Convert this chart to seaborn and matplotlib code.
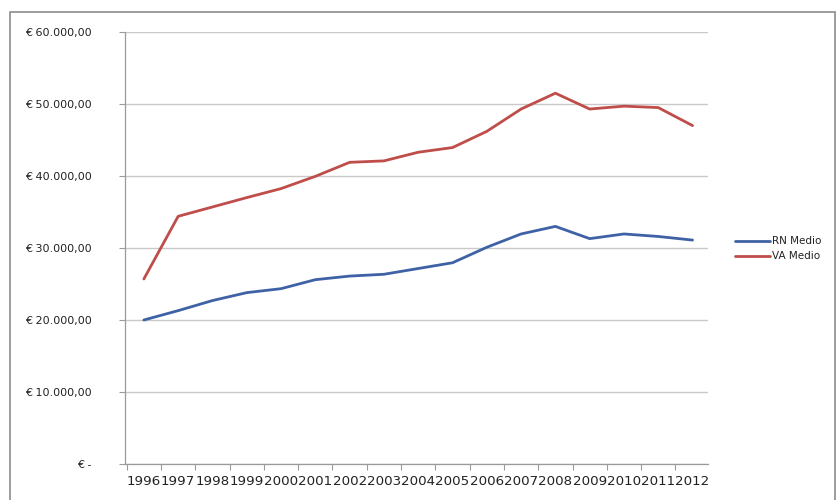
import matplotlib
matplotlib.use("Agg")
import matplotlib.pyplot as plt
from matplotlib.patches import Rectangle
from matplotlib.ticker import FixedLocator, FuncFormatter
import seaborn as sns
import pandas as pd

years = list(range(1996, 2013))
rn_medio = [20000, 21300, 22700, 23800, 24350, 25600, 26100, 26350, 27150,
            27950, 30100, 31950, 33000, 31300, 31950, 31600, 31100]
va_medio = [25700, 34400, 35700, 37000, 38250, 39950, 41900, 42100, 43300,
            43950, 46200, 49300, 51500, 49300, 49700, 49500, 47000]
series_names = ["RN Medio", "VA Medio"]
series_colors = ["#3f62a6", "#bf4d4a"]
y_ticks = [0, 10000, 20000, 30000, 40000, 50000, 60000]

df = pd.DataFrame({
    "Anno": years * 2,
    "Valore": rn_medio + va_medio,
    "Serie": [series_names[0]] * len(years) + [series_names[1]] * len(years),
})

sns.set_theme(style="white")
plt.rcParams["font.family"] = ["DejaVu Sans"]

fig = plt.figure(figsize=(8.38, 5.0), dpi=100)
ax = fig.add_axes([125 / 838, 36 / 500, (708 - 125) / 838, (464 - 32) / 500])

sns.lineplot(data=df, x="Anno", y="Valore", hue="Serie",
             palette=dict(zip(series_names, series_colors)),
             linewidth=2.0, ax=ax, legend=False)

ax.set_xlim(years[0] - 0.55, years[-1] + 0.45)
ax.set_ylim(0, 60000)
ax.set_xlabel("")
ax.set_ylabel("")

# Category labels, with tick marks on the category boundaries
ax.set_xticks(years)
ax.set_xticklabels([str(y) for y in years], fontsize=9.6, color="#222222")
ax.xaxis.set_minor_locator(FixedLocator([y - 0.5 for y in years] + [years[-1] + 0.5]))
ax.tick_params(axis="x", which="major", length=0, pad=8)
ax.tick_params(axis="x", which="minor", length=4, color="#9a9a9a", width=0.8,
               direction="out", bottom=True)


def euro(v, _pos):
    if v == 0:
        return "€ -"
    s = f"{v:,.2f}".replace(",", "X").replace(".", ",").replace("X", ".")
    return "€ " + s


ax.set_yticks(y_ticks)
ax.yaxis.set_major_formatter(FuncFormatter(euro))
ax.tick_params(axis="y", which="major", length=4, color="#9a9a9a", width=0.8,
               direction="out", left=True, pad=20, labelsize=8, labelcolor="#222222")

ax.yaxis.grid(True, color="#c9c9c9", linewidth=1.0)
ax.xaxis.grid(False)
for side in ["top", "right"]:
    ax.spines[side].set_visible(False)
for side in ["left", "bottom"]:
    ax.spines[side].set_color("#9a9a9a")
    ax.spines[side].set_linewidth(0.9)

# Legend drawn at the right of the plot area
for i, (name, color) in enumerate(zip(series_names, series_colors)):
    yy = 259 / 500 - i * 15 / 500
    fig.add_artist(plt.Line2D([735 / 838, 770 / 838], [yy, yy], color=color,
                              linewidth=2.0, transform=fig.transFigure))
    fig.text(772 / 838, yy, name, fontsize=7.5, color="#222222",
             va="center", ha="left")

# Chart area border
fig.add_artist(Rectangle((10 / 838, -0.02), 825 / 838, 488 / 500 + 0.02,
                         transform=fig.transFigure, fill=False,
                         edgecolor="#8c8c8c", linewidth=1.2))

fig.savefig("out.png", dpi=100, facecolor="white")
